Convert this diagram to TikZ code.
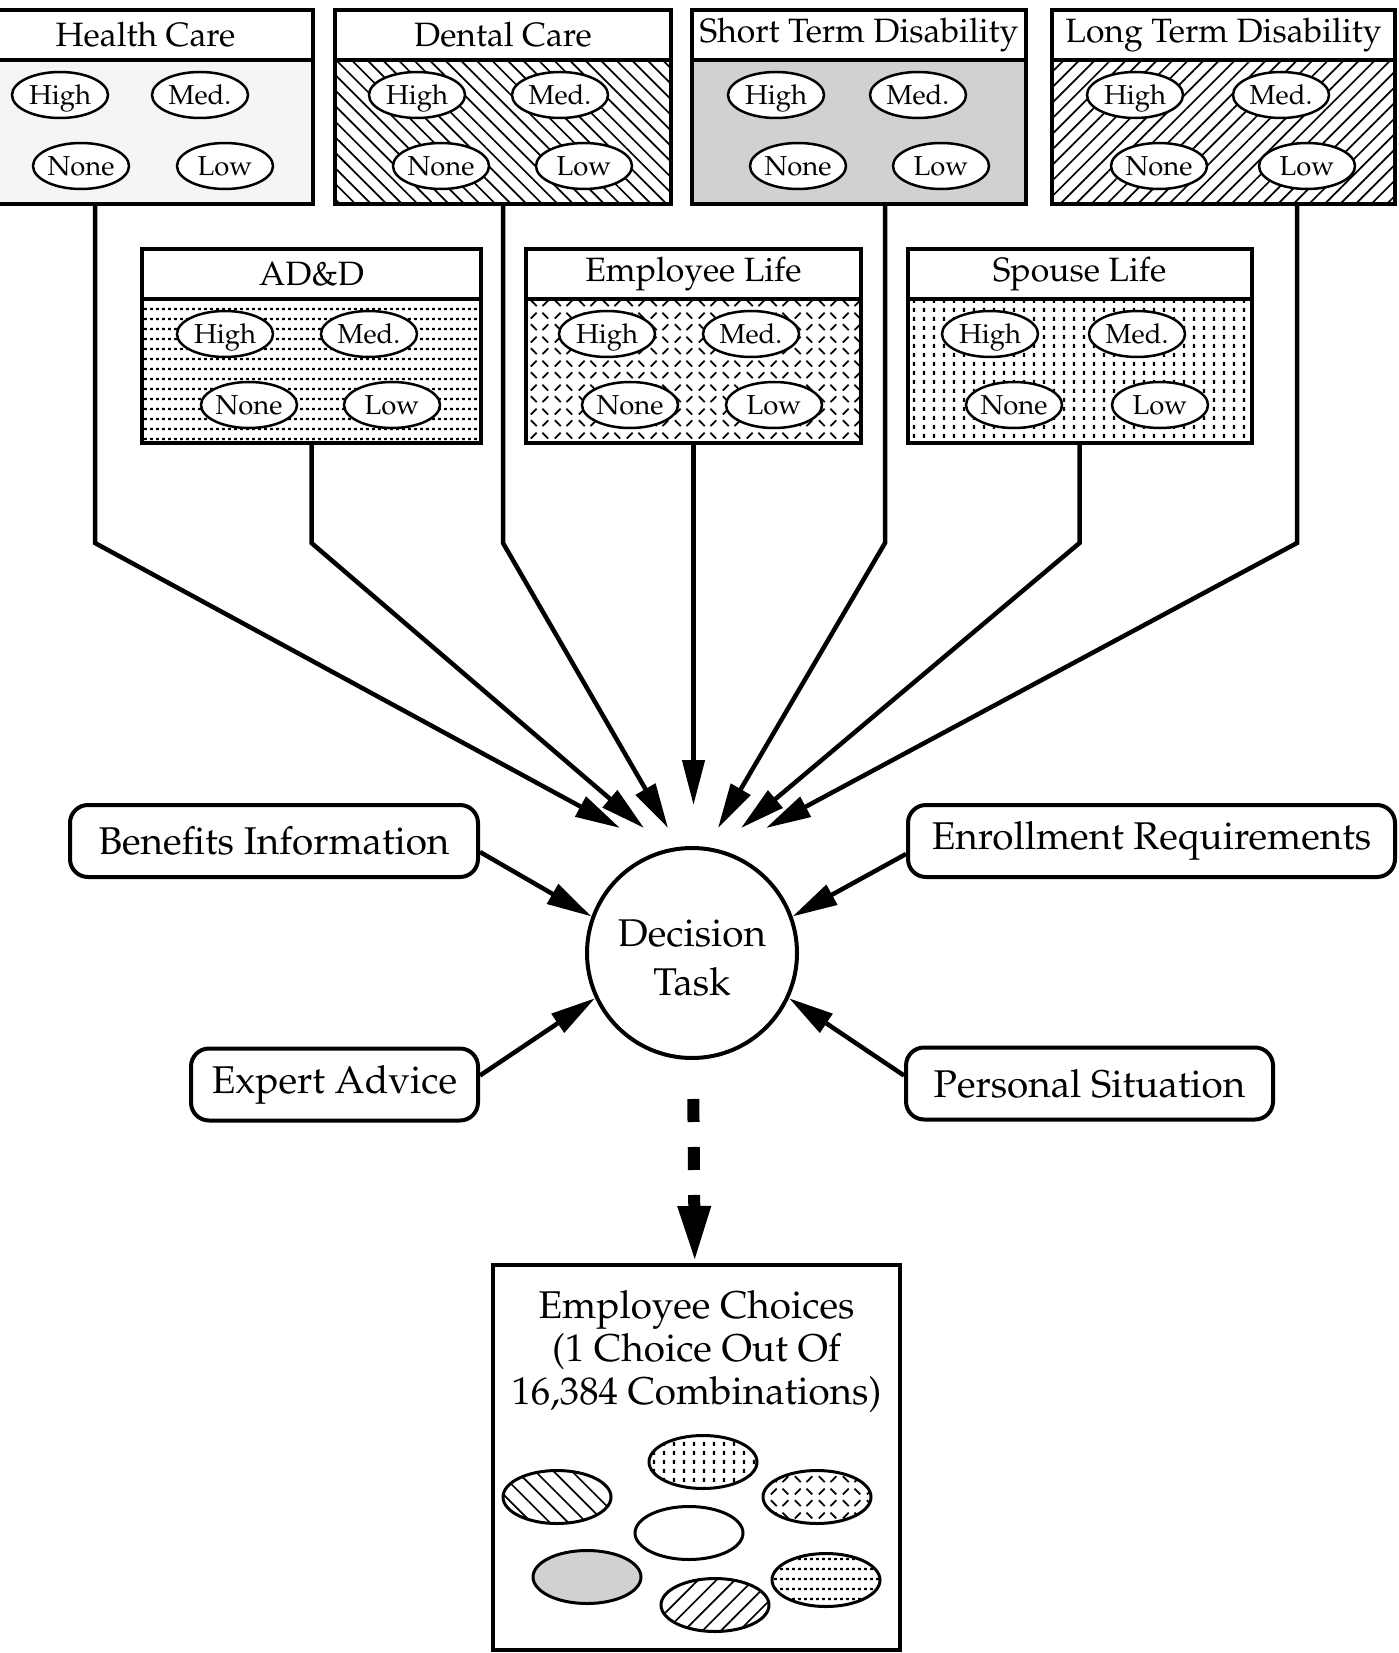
\documentclass[tikz,border=0pt]{standalone}
\usepackage[T1]{fontenc}
\usepackage{mathpazo}
\usepackage{tikz}
\usetikzlibrary{positioning,arrows.meta,shapes.geometric,patterns.meta}

% fill patterns of the plan boxes
\tikzdeclarepattern{
  name=dotrows, type=uncolored,
  bottom left={(0mm,0mm)}, top right={(0.63mm,1mm)}, tile size={(0.63mm,1mm)},
  code={\fill (0mm,0.4mm) rectangle (0.33mm,0.6mm);}
}
\tikzdeclarepattern{
  name=dotcols, type=uncolored,
  bottom left={(0mm,0mm)}, top right={(1mm,0.9mm)}, tile size={(1mm,0.9mm)},
  code={\fill (0.4mm,0mm) rectangle (0.6mm,0.45mm);}
}
\tikzdeclarepattern{
  name=ticks, type=uncolored,
  bottom left={(0mm,0mm)}, top right={(2.4mm,2.4mm)}, tile size={(2.4mm,2.4mm)},
  code={
    \draw[line width=0.18mm] (0.3mm,0.9mm) -- (0.9mm,0.3mm);
    \draw[line width=0.18mm] (1.5mm,0.3mm) -- (2.1mm,0.9mm);
    \draw[line width=0.18mm] (0.3mm,1.5mm) -- (0.9mm,2.1mm);
    \draw[line width=0.18mm] (1.5mm,2.1mm) -- (2.1mm,1.5mm);
  }
}

\begin{document}
\begin{tikzpicture}[x=0.1mm, y=-0.1mm]
  \tikzset{
    head/.style={draw, line width=0.4mm, fill=white, minimum height=5mm, inner sep=0pt, outer sep=0pt, font=\fontsize{9.6}{11}\selectfont},
    plan/.style={draw, line width=0.4mm, minimum height=14.4mm, inner sep=0pt, outer sep=0pt},
    lvl/.style={ellipse, draw, line width=0.25mm, fill=white, minimum width=9.6mm, minimum height=4.6mm, inner sep=0pt, text height=2.2mm, text depth=0.3mm, font=\fontsize{7.8}{9}\selectfont},
    side/.style={draw, rounded corners=1.8mm, line width=0.4mm, minimum height=7.2mm, inner sep=0pt, font=\fontsize{11}{13}\selectfont},
    conn/.style={line width=0.45mm, -{Triangle[length=4.5mm,width=2.2mm]}},
    outflow/.style={line width=1.2mm, dash pattern=on 2.3mm off 2.5mm, shorten <=3.9mm, -{Triangle[length=5.7mm,width=3mm]}},
    chip/.style={ellipse, draw, line width=0.3mm, minimum width=10.8mm, minimum height=5.3mm}
  }
  \useasboundingbox (0,0) rectangle (1398,1653);

  % Top row
  \node[head, minimum width=33.5mm] (hchead) at (145.5,35) {Health Care};
  \node[plan, minimum width=33.5mm, below=0pt of hchead, fill=black!4] (hcbody) {};
  \node[lvl] (hchi) at (60,95) {High};
  \node[lvl] (hcmd) at (200,95) {Med.};
  \node[lvl] (hcno) at (81,166) {None};
  \node[lvl] (hclo) at (225,166) {Low};

  \node[head, minimum width=33.6mm] (dchead) at (503,35) {Dental Care};
  \node[plan, minimum width=33.6mm, below=0pt of dchead, pattern={Lines[angle=-45,distance=1.1mm,line width=0.17mm]}] (dcbody) {};
  \node[lvl] (dchi) at (417,95) {High};
  \node[lvl] (dcmd) at (560,95) {Med.};
  \node[lvl] (dcno) at (441,166) {None};
  \node[lvl] (dclo) at (584,166) {Low};

  \node[head, minimum width=33.4mm] (sthead) at (859,35) {Short Term Disability};
  \node[plan, minimum width=33.4mm, below=0pt of sthead, fill=black!18] (stbody) {};
  \node[lvl] (sthi) at (776,95) {High};
  \node[lvl] (stmd) at (918,95) {Med.};
  \node[lvl] (stno) at (798,166) {None};
  \node[lvl] (stlo) at (941,166) {Low};

  \node[head, minimum width=34.3mm] (lthead) at (1223.5,35) {Long Term Disability};
  \node[plan, minimum width=34.3mm, below=0pt of lthead, pattern={Lines[angle=45,distance=1.1mm,line width=0.17mm]}] (ltbody) {};
  \node[lvl] (lthi) at (1135,95) {High};
  \node[lvl] (ltmd) at (1281,95) {Med.};
  \node[lvl] (ltno) at (1159,166) {None};
  \node[lvl] (ltlo) at (1307,166) {Low};

  % Second row
  \node[head, minimum width=33.9mm] (adhead) at (311.5,274) {AD\&D};
  \node[plan, minimum width=33.9mm, below=0pt of adhead, pattern=dotrows] (adbody) {};
  \node[lvl] (adhi) at (225,334) {High};
  \node[lvl] (admd) at (369,334) {Med.};
  \node[lvl] (adno) at (249,405) {None};
  \node[lvl] (adlo) at (392,405) {Low};

  \node[head, minimum width=33.5mm] (elhead) at (693.5,274) {Employee Life};
  \node[plan, minimum width=33.5mm, below=0pt of elhead, pattern=ticks] (elbody) {};
  \node[lvl] (elhi) at (607,334) {High};
  \node[lvl] (elmd) at (751,334) {Med.};
  \node[lvl] (elno) at (630,405) {None};
  \node[lvl] (ello) at (774,405) {Low};

  \node[head, minimum width=34.4mm] (slhead) at (1079.5,274) {Spouse Life};
  \node[plan, minimum width=34.4mm, below=0pt of slhead, pattern=dotcols] (slbody) {};
  \node[lvl] (slhi) at (990,334) {High};
  \node[lvl] (slmd) at (1137,334) {Med.};
  \node[lvl] (slno) at (1014,405) {None};
  \node[lvl] (sllo) at (1160,405) {Low};

  % Decision task and its inputs
  \node[circle, draw, line width=0.4mm, minimum size=21mm, inner sep=0pt, align=center, text height=8.4mm, text depth=0mm, font=\fontsize{11}{13.8}\selectfont] (task) at (692,953) {Decision\\Task};
  \node[side, minimum width=40.8mm] (benefits) at (274,841) {Benefits Information};
  \node[side, minimum width=48.7mm] (enroll) at (1151.5,841) {Enrollment Requirements};
  \node[side, minimum width=28.7mm] (expert) at (334.5,1084.5) {Expert Advice};
  \node[side, minimum width=36.7mm] (personal) at (1089.5,1083.5) {Personal Situation};

  % Outcome
  \node[draw, line width=0.4mm, minimum width=40.7mm, minimum height=38.5mm, inner sep=0pt] (choices) at (696.5,1457.5) {};
  \node[below=2.7mm of choices.north, inner sep=0pt, align=center, font=\fontsize{11}{12.2}\selectfont] (choicestxt) {Employee Choices\\(1 Choice Out Of\\16,384 Combinations)};
  \node[chip, pattern=dotcols] (chsl) at (703,1462) {};
  \node[chip, pattern={Lines[angle=-45,distance=1.3mm,line width=0.17mm]}] (chdc) at (557,1497) {};
  \node[chip, pattern=ticks] (chel) at (817,1497) {};
  \node[chip] (chhc) at (689,1533) {};
  \node[chip, fill=black!18] (chst) at (587,1577) {};
  \node[chip, pattern=dotrows] (chad) at (826,1580) {};
  \node[chip, pattern={Lines[angle=45,distance=1.3mm,line width=0.17mm]}] (chlt) at (715,1605) {};

  % Connectors
  \coordinate (bend) at (0,543);
  \coordinate (hcdrop) at (95,543);
  \coordinate (stdrop) at (885,543);
  \coordinate (ltdrop) at (1297,543);
  \coordinate (tHC) at (620,828);
  \coordinate (tAD) at (644,828);
  \coordinate (tDC) at (668,828);
  \coordinate (tEL) at (693.5,805);
  \coordinate (tST) at (718,828);
  \coordinate (tSL) at (741,828);
  \coordinate (tLT) at (766,828);

  \draw[conn] (hcdrop |- hcbody.south) -- (hcdrop) -- (tHC);
  \draw[conn] (adbody.south) -- (adbody.south |- bend) -- (tAD);
  \draw[conn] (dcbody.south) -- (dcbody.south |- bend) -- (tDC);
  \draw[conn] (elbody.south) -- (tEL);
  \draw[conn] (stdrop |- stbody.south) -- (stdrop) -- (tST);
  \draw[conn] (slbody.south) -- (slbody.south |- bend) -- (tSL);
  \draw[conn] (ltdrop |- ltbody.south) -- (ltdrop) -- (tLT);

  \draw[conn] ([yshift=-1.1mm]benefits.east) -- (task.160);
  \draw[conn] ([yshift=-1.3mm]enroll.west) -- (task.20);
  \draw[conn] ([yshift=0.9mm]expert.east) -- (task.205);
  \draw[conn] ([yshift=0.8mm]personal.west) -- (task.-25);

  \draw[outflow] (task) -- (choices);
\end{tikzpicture}
\end{document}
